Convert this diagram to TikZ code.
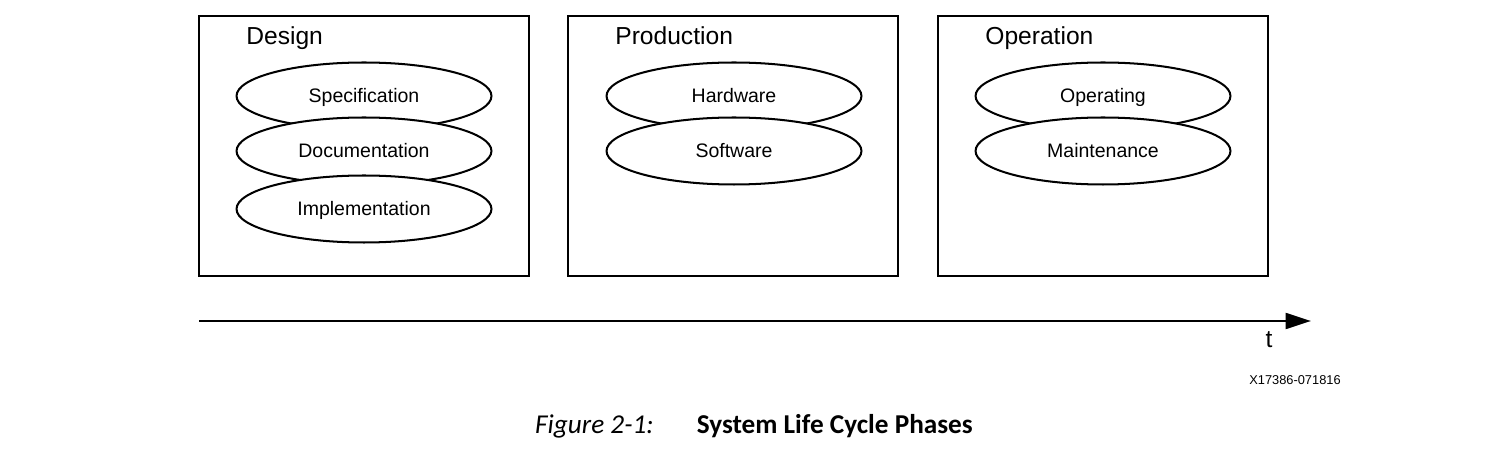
\documentclass[tikz,border=0pt]{standalone}
\usepackage{fontspec}
\setmainfont{Liberation Sans}
\newfontfamily\capfont{Carlito}
\usetikzlibrary{arrows.meta,shapes.geometric}

\begin{document}
\begin{tikzpicture}[x=0.02cm,y=-0.02cm,
  phase box/.style={draw,line width=1.1pt,minimum width=6.6cm,minimum height=5.2cm},
  phase title/.style={anchor=base west,font=\fontsize{14}{16}\selectfont,inner sep=0pt},
  task node/.style={ellipse,draw,fill=white,line width=1.15pt,minimum width=5.1cm,
    minimum height=1.34cm,inner sep=0pt,text height=0.72em,text depth=0pt,
    font=\fontsize{11.1}{13}\selectfont}]

  \useasboundingbox (0,0) rectangle (1510,452);

  % the three phases
  \node[phase box] (design) at (364,146) {};
  \node[phase box] (production) at (733,146) {};
  \node[phase box] (operation) at (1103,146) {};

  \node[phase title] (designtitle) at (246,44.5) {Design};
  \node[phase title] (productiontitle) at (615,44.5) {Production};
  \node[phase title] (operationtitle) at (985,44.5) {Operation};

  \node[task node] (spec) at (364,96) {Specification};
  \node[task node] (doc) at (364,151) {Documentation};
  \node[task node] (impl) at (364,209) {Implementation};

  \node[task node] (hw) at (734,96) {Hardware};
  \node[task node] (sw) at (734,151) {Software};

  \node[task node] (oper) at (1103,96) {Operating};
  \node[task node] (maint) at (1103,151) {Maintenance};

  % time axis
  \coordinate (tstart) at (199,321);
  \coordinate (tend) at (1311,321);
  \draw[line width=1.6pt,-{Triangle[length=14.5pt,width=9pt]}] (tstart) -- (tend);
  \node[font=\fontsize{14}{16}\selectfont,inner sep=0pt] (tlabel) at (1269,340) {t};

  \node[font=\fontsize{7.3}{9}\selectfont,inner sep=0pt] (figid) at (1295,380) {X17386-071816};

  \node[font=\capfont\fontsize{15.5}{18}\selectfont,inner sep=0pt,anchor=base] (caption) at (754,433)
    {\textit{Figure 2-1:}\hspace{24.5pt}\textbf{System Life Cycle Phases}};

\end{tikzpicture}
\end{document}
